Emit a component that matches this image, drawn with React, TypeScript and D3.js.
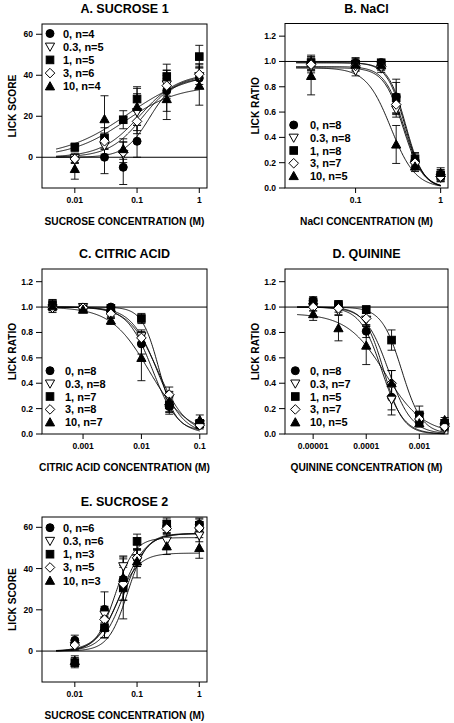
import React from "react";
import * as d3 from "d3";

// ---------- DATA ----------
const seriesLabelsA = ["0, n=4", "0.3, n=5", "1, n=5", "3, n=6", "10, n=4"];
const seriesLabelsB = ["0, n=8", "0.3, n=8", "1, n=8", "3, n=7", "10, n=5"];
const seriesLabelsC = ["0, n=8", "0.3, n=8", "1, n=7", "3, n=8", "10, n=7"];
const seriesLabelsD = ["0, n=8", "0.3, n=7", "1, n=5", "3, n=7", "10, n=5"];
const seriesLabelsE = ["0, n=6", "0.3, n=6", "1, n=3", "3, n=5", "10, n=3"];

const concSucrose = [0.01, 0.03, 0.06, 0.1, 0.3, 1];
const concNaCl = [0.03, 0.1, 0.2, 0.3, 0.5, 1];
const concCitric = [0.0003, 0.001, 0.003, 0.01, 0.03, 0.1];
const concQuinine = [0.00001, 0.00003, 0.0001, 0.0003, 0.001, 0.003];

// series order: 0 (circle), 0.3 (open down triangle), 1 (square), 3 (open diamond), 10 (up triangle)
const meanA = [
  [-0.5, 0, -4.9, 7.8, 32.4, 38.6],
  [-0.5, 5.5, 1.5, 22, 35.5, 39.5],
  [4.9, 9.4, 18.3, 28.4, 39.4, 49.1],
  [-0.8, 7.8, 2.4, 17.5, 34.9, 40.5],
  [-5.7, 18.6, 4, 24.6, 28.4, 34.9],
];
const semA = [
  [2.5, 8, 8.4, 7.8, 10, 5],
  [2, 4, 6, 9, 7, 6],
  [2, 5, 4.4, 6, 6, 5.5],
  [2, 4, 5, 6, 5, 5],
  [5, 11.4, 5, 9, 10, 9.5],
];
const fitA = [
  [0, 38.5, -0.8, 2.2],
  [0, 40, -0.9, 1.6],
  [0, 42, -1.15, 0.85],
  [0, 41, -0.95, 1.4],
  [0, 35, -1.2, 1.0],
];

const meanB = [
  [0.987, 0.99, 0.99, 0.72, 0.22, 0.106],
  [0.96, 0.926, 0.944, 0.62, 0.185, 0.08],
  [0.99, 0.98, 0.99, 0.714, 0.23, 0.1],
  [0.975, 0.965, 0.96, 0.66, 0.2, 0.09],
  [0.886, 0.975, 0.97, 0.344, 0.17, 0.12],
];
const semB = [
  [0.05, 0.04, 0.02, 0.14, 0.05, 0.04],
  [0.05, 0.04, 0.03, 0.06, 0.04, 0.03],
  [0.06, 0.03, 0.02, 0.12, 0.05, 0.04],
  [0.05, 0.04, 0.03, 0.07, 0.04, 0.04],
  [0.15, 0.05, 0.03, 0.15, 0.04, 0.04],
];
const fitB = [
  [0.99, 0, -0.42, 4.1],
  [0.95, 0, -0.44, 3.8],
  [0.99, 0, -0.41, 4.2],
  [0.96, 0, -0.43, 3.8],
  [0.95, 0, -0.585, 3.0],
];

const meanC = [
  [1.007, 0.994, 1.0, 0.71, 0.216, 0.07],
  [0.99, 1.0, 0.94, 0.77, 0.28, 0.077],
  [1.02, 0.986, 0.99, 0.91, 0.23, 0.084],
  [0.995, 0.995, 0.947, 0.757, 0.31, 0.07],
  [1.007, 0.98, 0.894, 0.6, 0.256, 0.11],
];
const semC = [
  [0.03, 0.02, 0.02, 0.08, 0.06, 0.03],
  [0.02, 0.02, 0.03, 0.05, 0.05, 0.02],
  [0.04, 0.02, 0.02, 0.04, 0.06, 0.03],
  [0.02, 0.02, 0.03, 0.05, 0.06, 0.02],
  [0.05, 0.02, 0.03, 0.18, 0.08, 0.04],
];
const fitC = [
  [1, 0, -1.805, 2.0],
  [1, 0, -1.73, 1.96],
  [1, 0.03, -1.7, 3.0],
  [1, 0, -1.72, 1.76],
  [1, 0, -1.87, 1.34],
];

const meanD = [
  [1.05, 1.018, 0.81, 0.29, 0.097, 0.058],
  [1.0, 0.97, 0.9, 0.27, 0.137, 0.045],
  [1.04, 1.02, 0.98, 0.74, 0.15, 0.084],
  [1.0, 0.99, 0.91, 0.4, 0.118, 0.058],
  [0.945, 0.834, 0.697, 0.4, 0.085, 0.11],
];
const semD = [
  [0.03, 0.02, 0.05, 0.1, 0.02, 0.02],
  [0.03, 0.03, 0.05, 0.12, 0.03, 0.02],
  [0.04, 0.03, 0.03, 0.08, 0.07, 0.03],
  [0.03, 0.03, 0.05, 0.1, 0.03, 0.02],
  [0.05, 0.1, 0.15, 0.1, 0.03, 0.02],
];
const fitD = [
  [1, 0, -3.705, 2.13],
  [1, 0, -3.67, 2.4],
  [1, 0, -3.33, 2.3],
  [1, 0, -3.58, 2.0],
  [0.95, 0, -3.64, 1.21],
];

const meanE = [
  [5.2, 20.2, 34.7, 45, 60.5, 61.5],
  [2.4, 17.7, 41.1, 45, 53.5, 56],
  [-5.6, 11.3, 30.6, 53.2, 61.5, 61],
  [2.9, 15.3, 32.6, 45.2, 59.4, 59.7],
  [-4.8, 11.6, 35.5, 43.5, 50.8, 50],
];
const semE = [
  [2.5, 8.5, 10, 4, 3, 3],
  [2, 4, 5, 4, 3.5, 3],
  [2.5, 5, 15, 3.5, 3, 3],
  [2, 4, 8, 4, 3, 3],
  [2.5, 5, 6, 8, 4, 5],
];
const fitE = [
  [0, 57, -1.25, 2.2],
  [0, 55, -1.35, 2.8],
  [0, 57, -1.15, 2.8],
  [0, 57, -1.2, 2.4],
  [0, 47.5, -1.32, 2.5],
];

const ticksScore = [0, 20, 40, 60];
const ticksRatio = [0, 0.2, 0.4, 0.6, 0.8, 1.0, 1.2];
const xTicksSucrose = [0.01, 0.1, 1];
const xTickLabelsSucrose = ["0.01", "0.1", "1"];
const xTicksNaCl = [0.1, 1];
const xTickLabelsNaCl = ["0.1", "1"];
const xTicksCitric = [0.001, 0.01, 0.1];
const xTickLabelsCitric = ["0.001", "0.01", "0.1"];
const xTicksQuinine = [0.00001, 0.0001, 0.001];
const xTickLabelsQuinine = ["0.00001", "0.0001", "0.001"];

// ---------- LAYOUT ----------
const FONT = "'Liberation Sans', Arial, Helvetica, sans-serif";
const markerKinds = ["circle", "triDown", "square", "diamond", "triUp"];

type PanelDef = {
  title: string;
  xLabel: string;
  yLabel: string;
  box: [number, number, number, number]; // x0,y0,x1,y1
  xDomain: [number, number];
  yDomain: [number, number];
  yTicks: number[];
  yFmt: (v: number) => string;
  xTicks: number[];
  xTickLabels: string[];
  conc: number[];
  mean: number[][];
  sem: number[][];
  fit: number[][];
  fitRange: [number, number];
  refLine: number;
  labels: string[];
  legend: { mx: number; tx: number; y0: number; dy: number };
};

const panels: PanelDef[] = [
  {
    title: "A. SUCROSE 1",
    xLabel: "SUCROSE CONCENTRATION (M)",
    yLabel: "LICK SCORE",
    box: [42, 24, 207, 188],
    xDomain: [0.00297, 1.33],
    yDomain: [-15, 65],
    yTicks: ticksScore,
    yFmt: (v) => String(v),
    xTicks: xTicksSucrose,
    xTickLabels: xTickLabelsSucrose,
    conc: concSucrose,
    mean: meanA,
    sem: semA,
    fit: fitA,
    fitRange: [0.005, 1],
    refLine: 0,
    labels: seriesLabelsA,
    legend: { mx: 50, tx: 63, y0: 33.5, dy: 13.2 },
  },
  {
    title: "B. NaCl",
    xLabel: "NaCl CONCENTRATION (M)",
    yLabel: "LICK RATIO",
    box: [285, 23.5, 448, 188],
    xDomain: [0.0148, 1.22],
    yDomain: [0, 1.3],
    yTicks: ticksRatio,
    yFmt: d3.format(".1f"),
    xTicks: xTicksNaCl,
    xTickLabels: xTickLabelsNaCl,
    conc: concNaCl,
    mean: meanB,
    sem: semB,
    fit: fitB,
    fitRange: [0.02, 1],
    refLine: 1,
    labels: seriesLabelsB,
    legend: { mx: 293.7, tx: 310, y0: 125, dy: 12.75 },
  },
  {
    title: "C. CITRIC ACID",
    xLabel: "CITRIC ACID CONCENTRATION (M)",
    yLabel: "LICK RATIO",
    box: [42, 269, 207, 434],
    xDomain: [0.000198, 0.133],
    yDomain: [0, 1.3],
    yTicks: ticksRatio,
    yFmt: d3.format(".1f"),
    xTicks: xTicksCitric,
    xTickLabels: xTickLabelsCitric,
    conc: concCitric,
    mean: meanC,
    sem: semC,
    fit: fitC,
    fitRange: [0.0003, 0.1],
    refLine: 1,
    labels: seriesLabelsC,
    legend: { mx: 50, tx: 65, y0: 370.7, dy: 12.9 },
  },
  {
    title: "D. QUININE",
    xLabel: "QUININE CONCENTRATION (M)",
    yLabel: "LICK RATIO",
    box: [285, 269, 448, 434],
    xDomain: [0.00000295, 0.00347],
    yDomain: [0, 1.3],
    yTicks: ticksRatio,
    yFmt: d3.format(".1f"),
    xTicks: xTicksQuinine,
    xTickLabels: xTickLabelsQuinine,
    conc: concQuinine,
    mean: meanD,
    sem: semD,
    fit: fitD,
    fitRange: [0.000005, 0.003],
    refLine: 1,
    labels: seriesLabelsD,
    legend: { mx: 295.3, tx: 310, y0: 370.7, dy: 12.9 },
  },
  {
    title: "E. SUCROSE 2",
    xLabel: "SUCROSE CONCENTRATION (M)",
    yLabel: "LICK SCORE",
    box: [42, 517, 207, 682],
    xDomain: [0.00297, 1.33],
    yDomain: [-15, 65],
    yTicks: ticksScore,
    yFmt: (v) => String(v),
    xTicks: xTicksSucrose,
    xTickLabels: xTickLabelsSucrose,
    conc: concSucrose,
    mean: meanE,
    sem: semE,
    fit: fitE,
    fitRange: [0.005, 1],
    refLine: 0,
    labels: seriesLabelsE,
    legend: { mx: 50, tx: 63, y0: 527.7, dy: 13.25 },
  },
];

function logistic(p: number[], lx: number) {
  const [y0, y1, L, h] = p;
  return y0 + (y1 - y0) / (1 + Math.pow(10, (L - lx) * h));
}

function Marker({ kind, x, y }: { kind: string; x: number; y: number }) {
  const common = { stroke: "#000", strokeWidth: 1 };
  if (kind === "circle") return <circle cx={x} cy={y} r={4} fill="#000" {...common} />;
  if (kind === "square")
    return <rect x={x - 3.8} y={y - 3.8} width={7.6} height={7.6} fill="#000" {...common} />;
  if (kind === "diamond")
    return (
      <path
        d={`M${x},${y - 4.8}L${x + 4.8},${y}L${x},${y + 4.8}L${x - 4.8},${y}Z`}
        fill="#fff"
        {...common}
      />
    );
  if (kind === "triDown")
    return (
      <path
        d={`M${x - 4.6},${y - 3.6}L${x + 4.6},${y - 3.6}L${x},${y + 4.6}Z`}
        fill="#fff"
        {...common}
      />
    );
  return (
    <path
      d={`M${x - 4.6},${y + 3.6}L${x + 4.6},${y + 3.6}L${x},${y - 4.6}Z`}
      fill="#000"
      {...common}
    />
  );
}

function Panel({ p }: { p: PanelDef }) {
  const [bx0, by0, bx1, by1] = p.box;
  const x = d3.scaleLog().domain(p.xDomain).range([bx0, bx1]);
  const y = d3.scaleLinear().domain(p.yDomain).range([by1, by0]);
  const cx = (bx0 + bx1) / 2;
  const cy = (by0 + by1) / 2;
  const line = d3
    .line<number>()
    .x((lx) => x(Math.pow(10, lx)))
    .y((lx) => y(0))
    .curve(d3.curveLinear);
  const lmin = Math.log10(p.fitRange[0]);
  const lmax = Math.log10(p.fitRange[1]);
  const steps = d3.range(0, 201).map((i) => lmin + ((lmax - lmin) * i) / 200);

  return (
    <g>
      <text
        x={cx}
        y={by0 - 11}
        textAnchor="middle"
        fontSize={12.5}
        fontWeight="bold"
        fontFamily={FONT}
      >
        {p.title}
      </text>
      {/* fitted curves */}
      {p.fit.map((f, i) => {
        const path = d3
          .line<number>()
          .x((lx) => x(Math.pow(10, lx)))
          .y((lx) => y(logistic(f, lx)))(steps);
        return <path key={"f" + i} d={path || ""} fill="none" stroke="#000" strokeWidth={0.9} />;
      })}
      {/* reference line */}
      <line x1={bx0} x2={bx1} y1={y(p.refLine)} y2={y(p.refLine)} stroke="#000" strokeWidth={1} />
      {/* error bars */}
      {p.mean.map((row, i) =>
        row.map((m, j) => {
          const xx = x(p.conc[j]);
          const s = p.sem[i][j];
          const yt = y(m + s);
          const yb = y(m - s);
          return (
            <g key={`e${i}-${j}`} stroke="#000" strokeWidth={0.9}>
              <line x1={xx} x2={xx} y1={yt} y2={yb} />
              <line x1={xx - 4} x2={xx + 4} y1={yt} y2={yt} />
              <line x1={xx - 4} x2={xx + 4} y1={yb} y2={yb} />
            </g>
          );
        })
      )}
      {/* markers */}
      {p.mean.map((row, i) =>
        row.map((m, j) => (
          <Marker key={`m${i}-${j}`} kind={markerKinds[i]} x={x(p.conc[j])} y={y(m)} />
        ))
      )}
      {/* frame */}
      <rect
        x={bx0}
        y={by0}
        width={bx1 - bx0}
        height={by1 - by0}
        fill="none"
        stroke="#000"
        strokeWidth={1}
      />
      {/* y ticks */}
      {p.yTicks.map((t) => (
        <g key={"yt" + t}>
          <line x1={bx0 - 6} x2={bx0} y1={y(t)} y2={y(t)} stroke="#000" strokeWidth={1} />
          <text
            x={bx0 - 9}
            y={y(t) + 3}
            textAnchor="end"
            fontSize={8.5}
            fontWeight="bold"
            fontFamily={FONT}
          >
            {p.yFmt(t)}
          </text>
        </g>
      ))}
      {/* x ticks */}
      {p.xTicks.map((t, k) => (
        <g key={"xt" + k}>
          <line x1={x(t)} x2={x(t)} y1={by1} y2={by1 + 5} stroke="#000" strokeWidth={1} />
          <text
            x={x(t)}
            y={by1 + 15}
            textAnchor="middle"
            fontSize={8.5}
            fontWeight="bold"
            fontFamily={FONT}
          >
            {p.xTickLabels[k]}
          </text>
        </g>
      ))}
      <text
        x={cx}
        y={by1 + 37}
        textAnchor="middle"
        fontSize={10.2}
        fontWeight="bold"
        fontFamily={FONT}
      >
        {p.xLabel}
      </text>
      <text
        transform={`translate(${bx0 - 26.5},${cy}) rotate(-90)`}
        textAnchor="middle"
        fontSize={10.2}
        fontWeight="bold"
        fontFamily={FONT}
      >
        {p.yLabel}
      </text>
      {/* legend */}
      {p.labels.map((lab, i) => {
        const ly = p.legend.y0 + i * p.legend.dy;
        return (
          <g key={"lg" + i}>
            <Marker kind={markerKinds[i]} x={p.legend.mx} y={ly} />
            <text
              x={p.legend.tx}
              y={ly + 4}
              fontSize={11}
              fontWeight="bold"
              fontFamily={FONT}
            >
              {lab}
            </text>
          </g>
        );
      })}
    </g>
  );
}

export default function App() {
  return (
    <svg
      width={454}
      height={723}
      style={{ position: "absolute", left: 0, top: 0, background: "#fff" }}
    >
      <rect x={0} y={0} width={454} height={723} fill="#fff" />
      {panels.map((p) => (
        <Panel key={p.title} p={p} />
      ))}
    </svg>
  );
}
